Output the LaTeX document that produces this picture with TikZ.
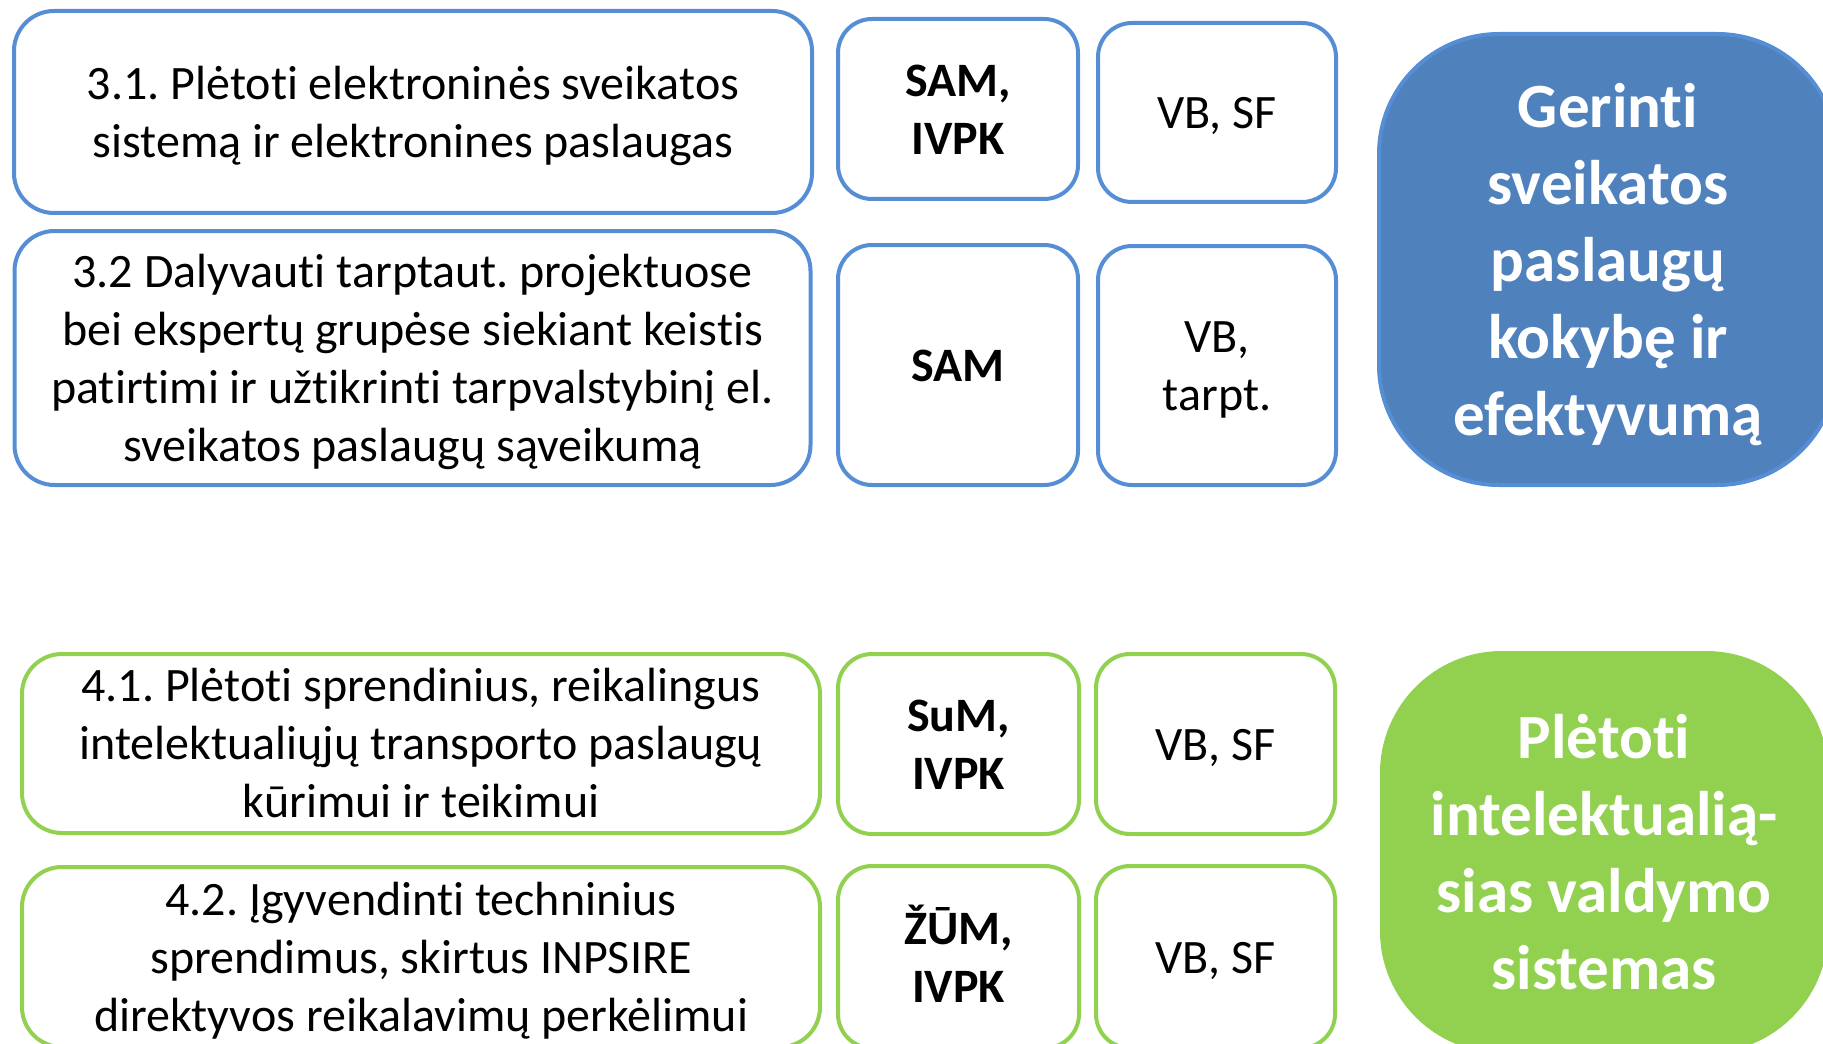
\documentclass[tikz,border=0pt]{standalone}
\usepackage{fontspec}
\setmainfont{Carlito}[Ligatures=NoCommon]
\usetikzlibrary{positioning}
\frenchspacing

\definecolor{bluLine}{RGB}{85,142,213}
\definecolor{bluFill}{RGB}{79,129,189}
\definecolor{grnLine}{RGB}{146,208,80}

\begin{document}
\begin{tikzpicture}[x=0.5pt,y=-0.5pt,
  rows/.style={align=center,inner sep=0pt,
    execute at begin node={\rule{0pt}{\dimexpr #1\baselineskip-\baselineskip+0.952em\relax}},
    execute at end node={\rule[-0.269em]{0pt}{0.269em}}},
  cell/.style={draw,line width=2pt,fill=white,rounded corners=20pt,rows=#1,font=\fontsize{24}{29}\selectfont},
  org/.style={cell=#1,rounded corners=17pt,font=\fontsize{24}{29}\selectfont\bfseries},
  fund/.style={cell=#1,rounded corners=17pt},
  goal/.style={draw,line width=2pt,rounded corners=60pt,rows=#1,text=white,font=\fontsize{31.5}{38.5}\selectfont\bfseries},
  blu/.style={draw=bluLine},
  grn/.style={draw=grnLine}]
\useasboundingbox (0,0) rectangle (1823,1043);

% 3 - sveikata
\node[cell=2,blu,minimum width=399pt,minimum height=101pt] (t31) at (413,112) {3.1. Plėtoti elektroninės sveikatos\\sistemą ir elektronines paslaugas};
\node[cell=4,blu,minimum width=398pt,minimum height=127pt] (t32) at (412.5,358) {3.2 Dalyvauti tarptaut. projektuose\\bei ekspertų grupėse siekiant keistis\\patirtimi ir užtikrinti tarpvalstybinį el.\\sveikatos paslaugų sąveikumą};
\node[org=2,blu,minimum width=120pt,minimum height=90pt] (a31) at (958,109) {SAM,\\IVPK};
\node[fund=1,blu,minimum width=119pt,minimum height=89.5pt] (f31) at (1217,112.5) {VB, SF};
\node[org=1,blu,minimum width=120pt,minimum height=120pt] (a32) at (958,365) {SAM};
\node[fund=2,blu,minimum width=119pt,minimum height=119.5pt] (f32) at (1217,365.5) {VB,\\tarpt.};
\node[goal=5,blu,fill=bluFill,minimum width=229pt,minimum height=225.5pt] (g3) at (1608,259.5) {Gerinti\\sveikatos\\paslaugų\\kokybę ir\\efektyvumą};

% 4 - valdymo sistemos
\node[cell=3,grn,minimum width=399pt,minimum height=89.5pt] (t41) at (421,743.5) {4.1. Plėtoti sprendinius, reikalingus\\intelektualiųjų transporto paslaugų\\kūrimui ir teikimui};
\node[cell=3,grn,minimum width=399pt,minimum height=90pt] (t42) at (421,957) {4.2. Įgyvendinti techninius\\sprendimus, skirtus INPSIRE\\direktyvos reikalavimų perkėlimui};
\node[org=2,grn,minimum width=120.5pt,minimum height=90pt] (a41) at (958.5,744) {SuM,\\IVPK};
\node[fund=1,grn,minimum width=119.5pt,minimum height=90pt] (f41) at (1215.5,744) {VB, SF};
\node[org=2,grn,minimum width=120.5pt,minimum height=91pt] (a42) at (958.5,957) {ŽŪM,\\IVPK};
\node[fund=1,grn,minimum width=119.5pt,minimum height=91pt] (f42) at (1215.5,957) {VB, SF};
\node[goal=4,grn,fill=grnLine,minimum width=222pt,minimum height=199pt] (g4) at (1604,852) {Plėtoti\\intelektualią-\\sias valdymo\\sistemas};

\end{tikzpicture}
\end{document}
